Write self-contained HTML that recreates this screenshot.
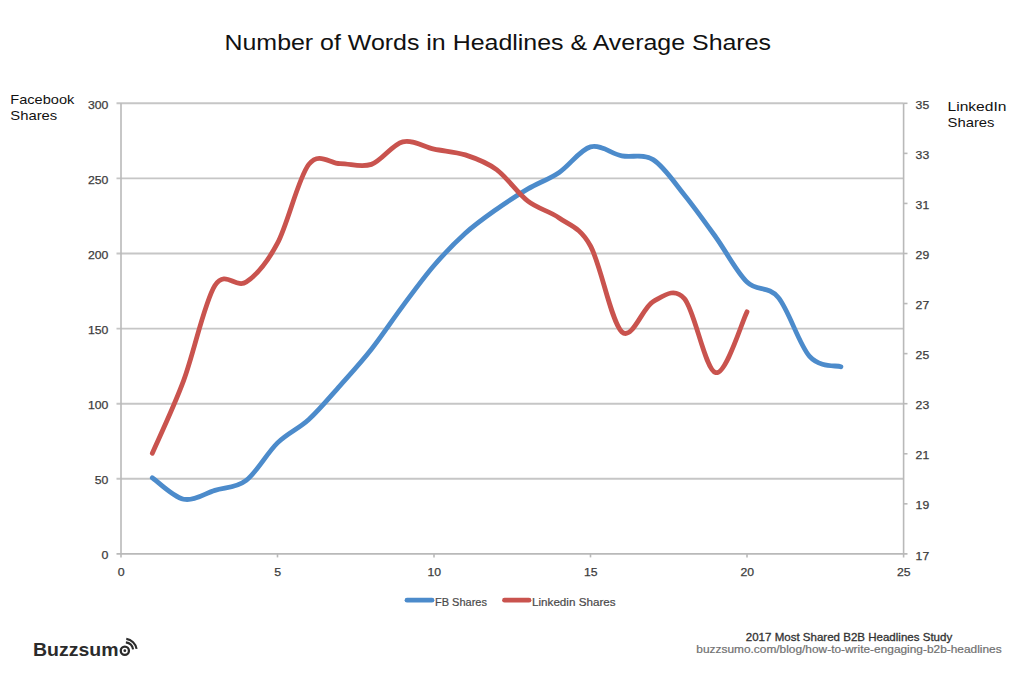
<!DOCTYPE html>
<html><head><meta charset="utf-8">
<style>
html,body{margin:0;padding:0;background:#fff;}
body{width:1024px;height:683px;overflow:hidden;position:relative;font-family:"Liberation Sans",sans-serif;}
svg{position:absolute;left:0;top:0;}
.g{stroke:#c6c6c6;stroke-width:1.9;fill:none;}
.a{stroke:#b9b9b9;stroke-width:1.6;fill:none;}
.fb{stroke:#4c8bcb;stroke-width:4.8;fill:none;stroke-linecap:round;stroke-linejoin:round;}
.li{stroke:#c9534e;stroke-width:4.8;fill:none;stroke-linecap:round;stroke-linejoin:round;}
.ax{font-family:"Liberation Sans",sans-serif;font-size:11.5px;fill:#3c3c3c;stroke:#3c3c3c;stroke-width:0.25px;}
.lg{font-family:"Liberation Sans",sans-serif;font-size:11px;fill:#4a4a4a;stroke:#4a4a4a;stroke-width:0.2px;}
.t{font-family:"Liberation Sans",sans-serif;fill:#111;}
</style></head><body>
<svg width="1024" height="683" viewBox="0 0 1024 683">
<text x="224.5" y="50" class="t" font-size="22" textLength="546.5" lengthAdjust="spacingAndGlyphs" id="title">Number of Words in Headlines &amp; Average Shares</text>
<text x="10.3" y="103.8" class="t" font-size="13.5" fill="#1e1e1e" textLength="64" lengthAdjust="spacingAndGlyphs">Facebook</text>
<text x="10.3" y="120.2" class="t" font-size="13.5" fill="#1e1e1e" textLength="47" lengthAdjust="spacingAndGlyphs">Shares</text>
<text x="947.5" y="110.7" class="t" font-size="13.5" fill="#1e1e1e" textLength="59" lengthAdjust="spacingAndGlyphs">LinkedIn</text>
<text x="947.5" y="126.5" class="t" font-size="13.5" fill="#1e1e1e" textLength="47" lengthAdjust="spacingAndGlyphs">Shares</text>
<line x1="116.5" y1="478.80" x2="903.6" y2="478.80" class="g"/>
<line x1="116.5" y1="403.70" x2="903.6" y2="403.70" class="g"/>
<line x1="116.5" y1="328.60" x2="903.6" y2="328.60" class="g"/>
<line x1="116.5" y1="253.50" x2="903.6" y2="253.50" class="g"/>
<line x1="116.5" y1="178.40" x2="903.6" y2="178.40" class="g"/>
<line x1="116.5" y1="103.30" x2="903.6" y2="103.30" class="g"/>
<line x1="121" y1="103.30" x2="121" y2="557.40" class="a"/>
<line x1="903.6" y1="103.30" x2="903.6" y2="557.40" class="a"/>
<line x1="116.5" y1="553.90" x2="907.5" y2="553.90" class="a"/>
<line x1="903.6" y1="503.83" x2="907.5" y2="503.83" class="a"/>
<line x1="903.6" y1="453.77" x2="907.5" y2="453.77" class="a"/>
<line x1="903.6" y1="403.70" x2="907.5" y2="403.70" class="a"/>
<line x1="903.6" y1="353.63" x2="907.5" y2="353.63" class="a"/>
<line x1="903.6" y1="303.57" x2="907.5" y2="303.57" class="a"/>
<line x1="903.6" y1="253.50" x2="907.5" y2="253.50" class="a"/>
<line x1="903.6" y1="203.43" x2="907.5" y2="203.43" class="a"/>
<line x1="903.6" y1="153.37" x2="907.5" y2="153.37" class="a"/>
<line x1="903.6" y1="103.30" x2="907.5" y2="103.30" class="a"/>
<line x1="277.50" y1="553.90" x2="277.50" y2="557.40" class="a"/>
<line x1="434.00" y1="553.90" x2="434.00" y2="557.40" class="a"/>
<line x1="590.50" y1="553.90" x2="590.50" y2="557.40" class="a"/>
<line x1="747.00" y1="553.90" x2="747.00" y2="557.40" class="a"/>
<text x="108.4" y="559.15" class="ax" text-anchor="end" textLength="6.9" lengthAdjust="spacingAndGlyphs">0</text>
<text x="108.4" y="484.05" class="ax" text-anchor="end" textLength="13.6" lengthAdjust="spacingAndGlyphs">50</text>
<text x="108.4" y="408.95" class="ax" text-anchor="end" textLength="20.4" lengthAdjust="spacingAndGlyphs">100</text>
<text x="108.4" y="333.85" class="ax" text-anchor="end" textLength="20.4" lengthAdjust="spacingAndGlyphs">150</text>
<text x="108.4" y="258.75" class="ax" text-anchor="end" textLength="20.4" lengthAdjust="spacingAndGlyphs">200</text>
<text x="108.4" y="183.65" class="ax" text-anchor="end" textLength="20.4" lengthAdjust="spacingAndGlyphs">250</text>
<text x="108.4" y="108.55" class="ax" text-anchor="end" textLength="20.4" lengthAdjust="spacingAndGlyphs">300</text>
<text x="915.6" y="559.55" class="ax" textLength="13.6" lengthAdjust="spacingAndGlyphs">17</text>
<text x="915.6" y="509.48" class="ax" textLength="13.6" lengthAdjust="spacingAndGlyphs">19</text>
<text x="915.6" y="459.42" class="ax" textLength="13.6" lengthAdjust="spacingAndGlyphs">21</text>
<text x="915.6" y="409.35" class="ax" textLength="13.6" lengthAdjust="spacingAndGlyphs">23</text>
<text x="915.6" y="359.28" class="ax" textLength="13.6" lengthAdjust="spacingAndGlyphs">25</text>
<text x="915.6" y="309.22" class="ax" textLength="13.6" lengthAdjust="spacingAndGlyphs">27</text>
<text x="915.6" y="259.15" class="ax" textLength="13.6" lengthAdjust="spacingAndGlyphs">29</text>
<text x="915.6" y="209.08" class="ax" textLength="13.6" lengthAdjust="spacingAndGlyphs">31</text>
<text x="915.6" y="159.02" class="ax" textLength="13.6" lengthAdjust="spacingAndGlyphs">33</text>
<text x="915.6" y="108.95" class="ax" textLength="13.6" lengthAdjust="spacingAndGlyphs">35</text>
<text x="121.30" y="575.5" class="ax" text-anchor="middle" textLength="6.9" lengthAdjust="spacingAndGlyphs">0</text>
<text x="277.80" y="575.5" class="ax" text-anchor="middle" textLength="6.9" lengthAdjust="spacingAndGlyphs">5</text>
<text x="434.30" y="575.5" class="ax" text-anchor="middle" textLength="13.6" lengthAdjust="spacingAndGlyphs">10</text>
<text x="590.80" y="575.5" class="ax" text-anchor="middle" textLength="13.6" lengthAdjust="spacingAndGlyphs">15</text>
<text x="747.30" y="575.5" class="ax" text-anchor="middle" textLength="13.6" lengthAdjust="spacingAndGlyphs">20</text>
<text x="903.80" y="575.5" class="ax" text-anchor="middle" textLength="13.6" lengthAdjust="spacingAndGlyphs">25</text>
<path d="M152.30,477.75 C157.52,481.33 173.17,497.12 183.60,499.23 C194.03,501.33 204.47,493.52 214.90,490.37 C225.33,487.21 235.77,488.21 246.20,480.30 C256.63,472.39 267.07,453.04 277.50,442.90 C287.93,432.76 298.37,429.03 308.80,419.47 C319.23,409.91 329.67,397.24 340.10,385.53 C350.53,373.81 360.97,362.42 371.40,349.18 C381.83,335.93 392.27,320.01 402.70,306.07 C413.13,292.13 423.57,277.66 434.00,265.52 C444.43,253.37 454.87,242.61 465.30,233.22 C475.73,223.84 486.17,216.58 496.60,209.19 C507.03,201.81 517.47,195.05 527.90,188.91 C538.33,182.78 548.77,179.40 559.20,172.39 C569.63,165.38 580.07,149.61 590.50,146.86 C600.93,144.10 611.37,153.74 621.80,155.87 C632.23,158.00 642.67,153.12 653.10,159.62 C663.53,166.13 673.97,182.03 684.40,194.92 C694.83,207.81 705.27,222.46 715.70,236.98 C726.13,251.50 736.57,271.95 747.00,282.04 C757.43,292.13 767.87,285.12 778.30,297.51 C788.73,309.90 799.17,344.85 809.60,356.39 C820.03,367.93 835.68,365.02 840.90,366.75" class="fb"/>
<path d="M152.30,453.27 C157.52,441.17 173.17,408.62 183.60,380.67 C194.03,352.72 204.47,301.98 214.90,285.54 C225.33,269.10 235.77,289.09 246.20,282.04 C256.63,274.99 267.07,262.85 277.50,243.24 C287.93,223.63 298.37,177.65 308.80,164.38 C319.23,151.11 329.67,163.63 340.10,163.63 C350.53,163.63 360.97,168.01 371.40,164.38 C381.83,160.75 392.27,144.40 402.70,141.85 C413.13,139.31 423.57,146.94 434.00,149.11 C444.43,151.28 454.87,151.45 465.30,154.87 C475.73,158.29 486.17,161.92 496.60,169.64 C507.03,177.36 517.47,193.13 527.90,201.18 C538.33,209.23 548.77,210.48 559.20,217.95 C569.63,225.42 580.07,227.01 590.50,245.99 C600.93,264.97 611.37,322.59 621.80,331.85 C632.23,341.12 642.67,307.11 653.10,301.56 C663.53,296.01 673.97,286.71 684.40,298.56 C694.83,310.41 705.27,370.45 715.70,372.66 C726.13,374.87 741.78,321.97 747.00,311.83" class="li"/>
<line x1="407" y1="600.2" x2="432" y2="600.2" class="fb"/>
<text x="435" y="605.5" class="lg">FB Shares</text>
<line x1="504.5" y1="600.2" x2="529" y2="600.2" class="li"/>
<text x="532" y="605.5" class="lg" textLength="83.6" lengthAdjust="spacingAndGlyphs">Linkedin Shares</text>
<text x="33" y="655.5" font-size="18" font-weight="bold" textLength="85.5" lengthAdjust="spacingAndGlyphs" fill="#2b2b2b" font-family="Liberation Sans, sans-serif">Buzzsum</text>
<g fill="none" stroke="#2b2b2b">
<circle cx="124.84" cy="650.70" r="4.1" stroke-width="2.3"/>
<circle cx="124.84" cy="650.70" r="1.4" fill="#2b2b2b" stroke="none"/>
<path d="M125.86,642.41 A8.35,8.35 0 0 1 133.09,649.39" stroke-width="2.1"/>
<path d="M126.29,638.89 A11.90,11.90 0 0 1 136.59,648.84" stroke-width="2.1"/>
</g>
<text x="849" y="640.6" font-size="11" fill="#333" stroke="#333" stroke-width="0.3" text-anchor="middle" textLength="206.4" lengthAdjust="spacingAndGlyphs" font-family="Liberation Sans, sans-serif">2017 Most Shared B2B Headlines Study</text>
<text x="849" y="653" font-size="11" fill="#707070" stroke="#707070" stroke-width="0.2" text-anchor="middle" textLength="305.3" lengthAdjust="spacingAndGlyphs" font-family="Liberation Sans, sans-serif">buzzsumo.com/blog/how-to-write-engaging-b2b-headlines</text>
</svg>
</body></html>
